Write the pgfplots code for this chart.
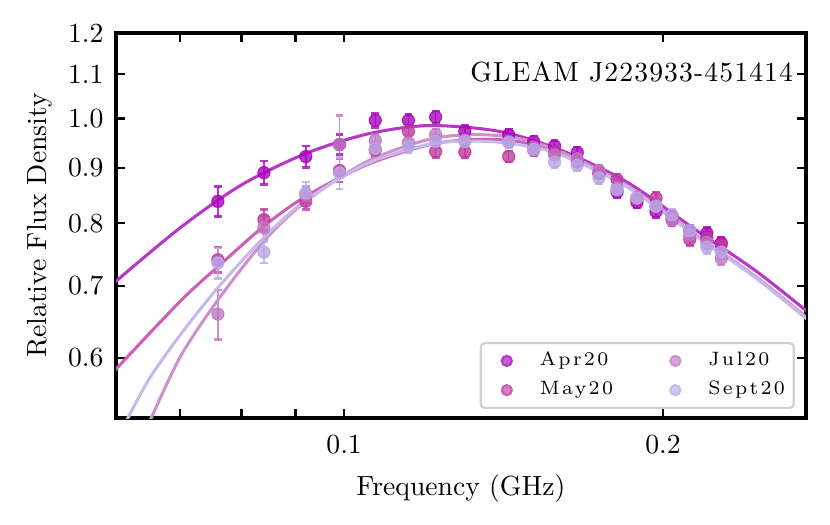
\documentclass[border=0pt]{standalone}
\usepackage{fontspec}
\usepackage{pgfplots}
\pgfplotsset{compat=1.18}
\usepackage{pgfplotstable}
\newfontfamily\legfont[LetterSpace=12]{Latin Modern Roman}
\newfontfamily\annfont[LetterSpace=4]{Latin Modern Roman}

\definecolor{capr}{RGB}{168,5,186}
\definecolor{cmay}{RGB}{193,55,161}
\definecolor{cjul}{RGB}{193,118,193}
\definecolor{csep}{RGB}{186,167,230}
\definecolor{lapr}{RGB}{185,55,200}
\definecolor{lmay}{RGB}{205,95,180}
\definecolor{ljul}{RGB}{205,145,205}
\definecolor{lsep}{RGB}{200,185,235}

\pgfplotstableread{
x y e
0.076 0.838 0.027
0.084 0.891 0.022
0.092 0.922 0.021
0.099 0.946 0.020
0.107 0.996 0.015
0.115 0.996 0.013
0.122 1.003 0.013
0.130 0.973 0.012
0.143 0.966 0.011
0.151 0.952 0.011
0.158 0.943 0.011
0.166 0.930 0.011
0.174 0.890 0.010
0.181 0.855 0.010
0.189 0.836 0.010
0.197 0.820 0.010
0.204 0.812 0.010
0.212 0.787 0.010
0.220 0.783 0.010
0.227 0.767 0.010
}\aprdata

\pgfplotstableread{
x y e
0.076 0.740 0.020
0.084 0.806 0.018
0.092 0.838 0.014
0.099 0.895 0.022
0.107 0.935 0.013
0.115 0.973 0.012
0.122 0.932 0.012
0.130 0.931 0.011
0.143 0.922 0.011
0.151 0.935 0.011
0.158 0.930 0.010
0.166 0.912 0.010
0.174 0.890 0.010
0.181 0.878 0.010
0.189 0.842 0.010
0.197 0.844 0.010
0.204 0.805 0.010
0.212 0.773 0.010
0.220 0.775 0.010
0.227 0.764 0.010
}\maydata

\pgfplotstableread{
x y e
0.076 0.659 0.035
0.084 0.792 0.020
0.092 0.850 0.015
0.099 0.946 0.060
0.107 0.954 0.013
0.115 0.950 0.012
0.122 0.966 0.012
0.130 0.955 0.011
0.143 0.952 0.011
0.151 0.940 0.011
0.158 0.925 0.010
0.166 0.918 0.010
0.174 0.895 0.010
0.181 0.862 0.010
0.189 0.845 0.010
0.197 0.830 0.010
0.204 0.806 0.010
0.212 0.780 0.010
0.220 0.768 0.010
0.227 0.742 0.010
}\juldata

\pgfplotstableread{
x y e
0.076 0.735 0.024
0.084 0.752 0.017
0.092 0.853 0.020
0.099 0.890 0.030
0.107 0.938 0.013
0.115 0.942 0.012
0.122 0.952 0.012
0.130 0.952 0.011
0.143 0.950 0.011
0.151 0.936 0.011
0.158 0.911 0.010
0.166 0.905 0.010
0.174 0.881 0.010
0.181 0.859 0.010
0.189 0.844 0.010
0.197 0.829 0.010
0.204 0.814 0.010
0.212 0.787 0.010
0.220 0.760 0.010
0.227 0.752 0.010
}\sepdata

\begin{document}
\begin{tikzpicture}
\begin{axis}[
  scale only axis,
  width=248.4bp, height=138.6bp,
  xmode=log, ymode=log,
  xmin=0.0609, xmax=0.2729,
  ymin=0.528, ymax=1.2,
  xtick={0.07,0.08,0.09,0.1,0.2},
  xticklabels={,,,0.1,0.2},
  ytick={0.6,0.7,0.8,0.9,1.0,1.1,1.2},
  yticklabels={0.6,0.7,0.8,0.9,1.0,1.1,1.2},
  xminorticks=false, yminorticks=false,
  tick align=inside,
  tick pos=both,
  major tick length=3.2bp,
  every tick/.style={black, line width=0.85bp},
  axis line style={line width=1.1bp},
  ticklabel style={font=\fontsize{10}{12}\selectfont},
  xticklabel style={yshift=-2.8pt},
  yticklabel style={xshift=-1pt},
  xlabel={Frequency (GHz)},
  ylabel={Relative Flux Density},
  label style={font=\fontsize{10}{12}\selectfont},
  xlabel style={at={(axis description cs:0.5,-0.202)}, anchor=base},
  ylabel style={at={(axis description cs:-0.1,0.5)}, anchor=base},
  legend columns=2,
  legend cell align=left,
  legend image code/.code={\path (0bp,0bp) (17.3bp,0bp); \fill[#1] (7bp,0bp) circle[radius=1.8bp];},
  legend style={at={(0.984,0.0234)}, anchor=south east,
    draw=black!18, line width=0.8pt, rounded corners=1.5pt,
    fill=white, fill opacity=0.8, text opacity=1, draw opacity=1,
    inner xsep=2pt, inner ysep=2pt,
    font=\legfont\fontsize{7}{8.4}\selectfont,
    nodes={inner sep=1.2pt},
    row sep=1.7bp,
    /tikz/every even column/.append style={column sep=13.8bp}},
  error bars/y dir=both,
  error bars/y explicit,
  error bars/error bar style={line width=0.55bp},
  error bars/error mark options={rotate=90, line width=0.9bp, mark size=1.4bp},
]
% legend images (matplotlib fills the legend column by column)
\addlegendimage{color=lapr}
\addlegendentry{Apr20}
\addlegendimage{color=ljul}
\addlegendentry{Jul20}
\addlegendimage{color=lmay}
\addlegendentry{May20}
\addlegendimage{color=lsep}
\addlegendentry{Sept20}

% Apr20
\addplot[forget plot, only marks, mark=*, mark size=2.2bp, color=capr, opacity=0.8, mark options={draw=none}]
  table[x=x, y=y, y error=e] {\aprdata};
\addplot[forget plot, smooth, no marks, color=lapr, line width=1.1bp] coordinates {
(0.0605,0.703) (0.070,0.792) (0.080,0.868) (0.092,0.928) (0.105,0.967)
(0.120,0.985) (0.140,0.973) (0.160,0.935) (0.185,0.873) (0.215,0.788)
(0.245,0.722) (0.275,0.660)};

% May20
\addplot[forget plot, only marks, mark=*, mark size=2.2bp, color=cmay, opacity=0.8, mark options={draw=none}]
  table[x=x, y=y, y error=e] {\maydata};
\addplot[forget plot, smooth, no marks, color=lmay, line width=1.1bp] coordinates {
(0.0605,0.582) (0.070,0.677) (0.076,0.729) (0.084,0.795) (0.092,0.847)
(0.105,0.906) (0.120,0.945) (0.132,0.956) (0.145,0.953) (0.160,0.929)
(0.185,0.865) (0.215,0.779) (0.245,0.712) (0.275,0.650)};

% Jul20
\addplot[forget plot, only marks, mark=*, mark size=2.2bp, color=cjul, opacity=0.8, mark options={draw=none}]
  table[x=x, y=y, y error=e] {\juldata};
\addplot[forget plot, smooth, no marks, color=ljul, line width=1.1bp] coordinates {
(0.0653,0.520) (0.070,0.601) (0.076,0.679) (0.084,0.770) (0.092,0.838)
(0.105,0.912) (0.120,0.956) (0.132,0.966) (0.145,0.960) (0.160,0.932)
(0.185,0.867) (0.215,0.780) (0.245,0.713) (0.275,0.651)};

% Sept20
\addplot[forget plot, only marks, mark=*, mark size=2.2bp, color=csep, opacity=0.8, mark options={draw=none}]
  table[x=x, y=y, y error=e] {\sepdata};
\addplot[forget plot, smooth, no marks, color=lsep, line width=1.1bp] coordinates {
(0.0620,0.520) (0.0654,0.573) (0.070,0.630) (0.076,0.697) (0.084,0.776)
(0.092,0.840) (0.105,0.908) (0.120,0.946) (0.132,0.953) (0.145,0.947)
(0.160,0.926) (0.185,0.864) (0.215,0.778) (0.245,0.711) (0.275,0.649)};

\node[anchor=base east, font=\annfont\fontsize{10}{12}\selectfont, inner sep=0pt]
  at (rel axis cs:0.982,0.8753) {GLEAM J223933-451414};
\end{axis}
\pgfresetboundingbox
\path[use as bounding box] ([xshift=-41.76bp,yshift=-38.52bp]current axis.south west)
  rectangle ([xshift=8.64bp,yshift=11.88bp]current axis.north east);
\end{tikzpicture}
\end{document}
